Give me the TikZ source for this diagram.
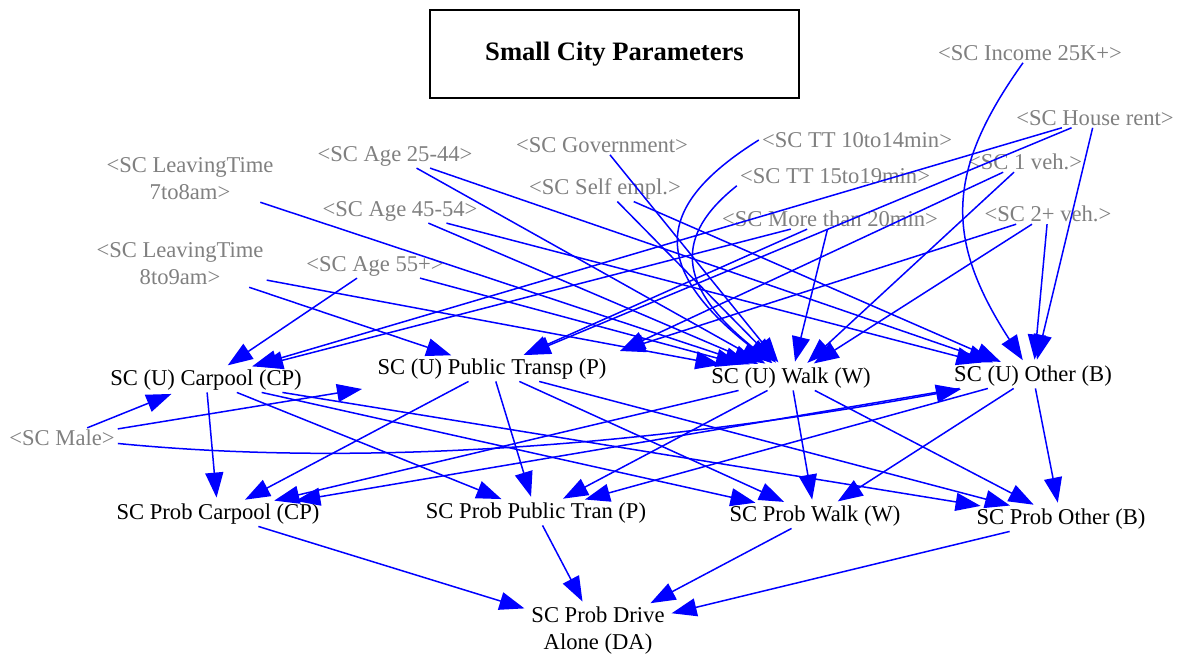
\documentclass[tikz,border=0pt]{standalone}
\usepackage{fontspec}
\setmainfont{Liberation Serif}
\usetikzlibrary{arrows.meta,calc}
\definecolor{lkblue}{RGB}{0,0,255}
\definecolor{shgray}{RGB}{128,128,128}
\begin{document}
\begin{tikzpicture}[x=1pt,y=-1pt,
  v/.style={font=\fontsize{22.6}{27}\selectfont, inner xsep=3pt, inner ysep=2pt, align=center},
  sh/.style={v, text=shgray},
  lk/.style={draw=lkblue, line width=1.5pt, -{Triangle[length=25pt,width=18pt]}, shorten >=4pt},
  titlebox/.style={draw=black, line width=1.6pt},
]
\useasboundingbox (0,0) rectangle (1194,656);
% title
\draw[titlebox] (430,10) rectangle (799,98);
\node[font=\fontsize{26.6}{30}\selectfont\bfseries] (title) at (614.5,54) {Small City Parameters};
% shadow variables
\node[sh] (inc) at (1030,53) {<SC Income 25K+>};
\node[sh] (rent) at (1095,118) {<SC House rent>};
\node[sh] (tt10) at (857,140) {<SC TT 10to14min>};
\node[sh] (gov) at (602,145) {<SC Government>};
\node[sh] (a2544) at (395,156) {<SC Age 25-44>};
\node[sh] (lt7) at (190,179) {<SC LeavingTime\\7to8am>};
\node[sh] (tt15) at (835,176) {<SC TT 15to19min>};
\node[sh] (veh1) at (1025,162) {<SC 1 veh.>};
\node[sh] (self) at (605,189) {<SC Self empl.>};
\node[sh] (a4554) at (400,211) {<SC Age 45-54>};
\node[sh] (more20) at (830,219) {<SC More than 20min>};
\node[sh] (veh2) at (1048,214) {<SC 2+ veh.>};
\node[sh] (lt8) at (180,264) {<SC LeavingTime\\8to9am>};
\node[sh] (a55) at (375,266) {<SC Age 55+>};
\node[sh] (male) at (62,438) {<SC Male>};
% utilities
\node[v] (ucp) at (206,380) {SC (U) Carpool (CP)};
\node[v] (upt) at (492,369) {SC (U) Public Transp (P)};
\node[v] (uw) at (791,378) {SC (U) Walk (W)};
\node[v] (uo) at (1033,376) {SC (U) Other (B)};
% probabilities
\node[v] (pcp) at (218,514) {SC Prob Carpool (CP)};
\node[v] (ppt) at (536,513) {SC Prob Public Tran (P)};
\node[v] (pw) at (815,516) {SC Prob Walk (W)};
\node[v] (po) at (1061,519) {SC Prob Other (B)};
\node[v] (da) at (598,631) {SC Prob Drive\\Alone (DA)};
\coordinate (uptr) at ($(upt)+(128,-18)$);
\coordinate (uptl) at ($(upt)+(-130,20)$);
% into UCP
\foreach \s in {a55,rent,more20,male} \draw[lk] (\s) -- (ucp);
% into UPT
\foreach \s in {lt8,more20,rent} \draw[lk] (\s) -- (upt);
\draw[lk,shorten >=0pt] (male) -- (uptl);
\draw[lk,shorten >=0pt] (veh2) -- (uptr);
\draw[lk,shorten >=0pt] (veh1) -- (uptr);
% into UW
\foreach \s in {lt7,lt8,a2544,a4554,a55,gov,self,more20,veh1,veh2} \draw[lk] (\s) -- (uw);
\draw[lk] (tt10.west) .. controls (660,202) and (643,263) .. (uw);
\draw[lk] (tt15.south west) .. controls (675,235) and (675,285) .. (uw);
% into UO
\foreach \s in {a2544,a4554,self,rent,veh2} \draw[lk] (\s) -- (uo);
\draw[lk] (inc) .. controls (945,172) and (945,240) .. (uo);
\draw[lk] (male) .. controls (368,468) and (655,445) .. (uo);
% utilities to probabilities
\foreach \u in {ucp,upt,uw,uo} \foreach \p in {pcp,ppt,pw,po} \draw[lk] (\u) -- (\p);
% probabilities to drive alone
\foreach \p in {pcp,ppt,pw,po} \draw[lk] (\p) -- (da);
\end{tikzpicture}
\end{document}
